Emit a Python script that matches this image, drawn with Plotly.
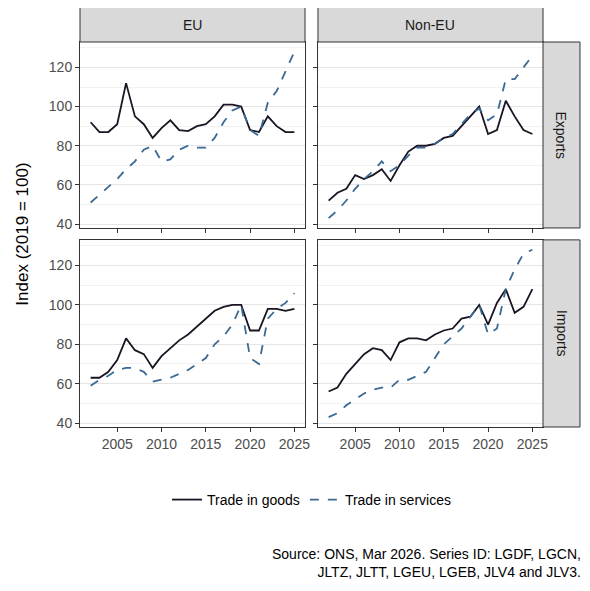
import plotly.graph_objects as go
from plotly.subplots import make_subplots

years = list(range(2002, 2026))
eu_exp_goods = [92,87,87,91,112,95,91,84,89,93,88,87.5,90,91,95,101,101,100,88,87,95,90,87,87]
eu_exp_serv = [51,55,59,63,68,72,78,80,72,73,78,80,79,79,84,92,98,100,88,85,102,108,118,128]
noneu_exp_goods = [52,56,58,65,63,65,68,62,70,77,80,80,81,84,85,90,95,100,86,88,103,95,88,86]
noneu_exp_serv = [43,47,52,58,63,67,72,67,70,75,79,79,81,84,86,91,96,99,93,96,114,114,120,126]
eu_imp_goods = [63,63,66,72,83,77,75,68,74,78,82,85,89,93,97,99,100,100,87,87,98,98,97,98]
eu_imp_serv = [59,62,64,67,68,68,66,61,62,63,65,67,70,73,80,84,90,100,73,70,93,98,101,106]
noneu_imp_goods = [56,58,65,70,75,78,77,72,81,83,83,82,85,87,88,93,94,100,90,101,108,96,99,108]
noneu_imp_serv = [43,45,49,52,55,57,58,58,62,62,64,66,73,80,84,88,94,100,85,88,108,118,126,128]

cols = ["EU", "Non-EU"]
rows = ["Exports", "Imports"]
data = {(1,1):(eu_exp_goods,eu_exp_serv),(1,2):(noneu_exp_goods,noneu_exp_serv),
        (2,1):(eu_imp_goods,eu_imp_serv),(2,2):(noneu_imp_goods,noneu_imp_serv)}

fig = make_subplots(rows=2, cols=2, shared_xaxes=True, shared_yaxes=True)
for (r,c),(g,s) in data.items():
    first = (r,c)==(1,1)
    fig.add_trace(go.Scatter(x=years, y=g, mode="lines", name="Trade in goods",
        line=dict(color="#1a1423", width=1.8), showlegend=first), row=r, col=c)
    fig.add_trace(go.Scatter(x=years, y=s, mode="lines", name="Trade in services",
        line=dict(color="#3a6a94", width=1.8, dash="dash"), showlegend=first), row=r, col=c)

dom_x = [[0, 0.486], [0.514, 1]]
dom_y = [[0.517, 1], [0, 0.486]]
fig.update_layout(xaxis=dict(domain=dom_x[0]), xaxis2=dict(domain=dom_x[1]),
                  xaxis3=dict(domain=dom_x[0]), xaxis4=dict(domain=dom_x[1]),
                  yaxis=dict(domain=dom_y[0]), yaxis2=dict(domain=dom_y[0]),
                  yaxis3=dict(domain=dom_y[1]), yaxis4=dict(domain=dom_y[1]))

fig.update_xaxes(range=[2000.8, 2026.2], tickvals=[2005,2010,2015,2020,2025],
    showgrid=False, ticks="outside", ticklen=4, tickcolor="#333", showline=True,
    linecolor="#333", mirror=True, tickfont=dict(size=14, color="#4d4d4d"), automargin=False)
fig.update_yaxes(range=[38, 133], tickvals=[40,60,80,100,120], gridcolor="#e5e5e5",
    gridwidth=1.2, minor=dict(dtick=10, tick0=30, showgrid=True, gridcolor="#f2f2f2", gridwidth=0.8),
    ticks="outside", ticklen=4, tickcolor="#333", showline=True, linecolor="#333",
    mirror=True, tickfont=dict(size=14, color="#4d4d4d"), zeroline=False, automargin=False)

fig.add_annotation(xref="paper", yref="paper", x=-0.125, y=0.5, text="Index (2019 = 100)",
    textangle=-90, showarrow=False, xanchor="center", yanchor="middle",
    font=dict(size=17, color="black"))

strip_h = 0.0909
strip_w = 0.0799
for i, name in enumerate(cols):
    x0, x1 = dom_x[i]
    y1 = dom_y[0][1]
    fig.add_shape(type="rect", xref="paper", yref="paper", x0=x0, x1=x1, y0=y1, y1=y1+strip_h,
                  fillcolor="#d9d9d9", line=dict(color="#333", width=1))
    fig.add_annotation(xref="paper", yref="paper", x=(x0+x1)/2, y=y1+strip_h/2, text=name,
                       showarrow=False, xanchor="center", yanchor="middle",
                       font=dict(size=14, color="#1a1a1a"))
for j, name in enumerate(rows):
    y0, y1 = dom_y[j]
    x1 = dom_x[1][1]
    fig.add_shape(type="rect", xref="paper", yref="paper", x0=x1, x1=x1+strip_w, y0=y0, y1=y1,
                  fillcolor="#d9d9d9", line=dict(color="#333", width=1))
    fig.add_annotation(xref="paper", yref="paper", x=x1+strip_w/2, y=(y0+y1)/2, text=name,
                       showarrow=False, textangle=90, xanchor="center", yanchor="middle",
                       font=dict(size=14, color="#1a1a1a"))

fig.add_annotation(xref="paper", yref="paper", x=1.086, y=-0.305, xanchor="right", yanchor="top",
    align="right", showarrow=False, font=dict(size=14, color="black"),
    text="Source: ONS, Mar 2026. Series ID: LGDF, LGCN,<br>JLTZ, JLTT, LGEU, LGEB, JLV4 and JLV3.")

fig.update_layout(width=590, height=591, plot_bgcolor="white", paper_bgcolor="white",
    font=dict(family="Liberation Sans, Arial, sans-serif"),
    margin=dict(l=72, r=55, t=34, b=172, autoexpand=False),
    legend=dict(orientation="h", x=0.5, xanchor="center", y=-0.148, yanchor="top",
                font=dict(size=14, color="black"), tracegroupgap=0))
fig.write_html("out.html")
